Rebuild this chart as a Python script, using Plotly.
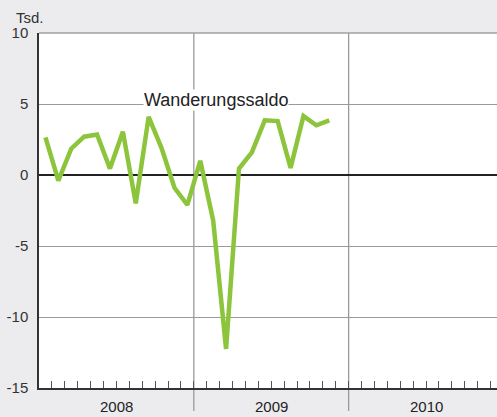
import plotly.graph_objects as go

# monthly migration balance (Tsd.), Jan 2008 - Nov 2009
months = ["2008-01", "2008-02", "2008-03", "2008-04", "2008-05", "2008-06",
          "2008-07", "2008-08", "2008-09", "2008-10", "2008-11", "2008-12",
          "2009-01", "2009-02", "2009-03", "2009-04", "2009-05", "2009-06",
          "2009-07", "2009-08", "2009-09", "2009-10", "2009-11"]
saldo = [2.65, -0.4, 1.85, 2.7, 2.85, 0.45, 3.05, -2.0, 4.1, 1.9, -0.9, -2.1,
         1.0, -3.2, -12.25, 0.45, 1.6, 3.85, 3.8, 0.5, 4.15, 3.5, 3.85]
years = ["2008", "2009", "2010"]
y_ticks = [-15, -10, -5, 0, 5, 10]
y_labels = ["-15", "-10", "-5", "0", "5", "10"]

bg = "#ececee"
font = "Liberation Sans, Arial, sans-serif"

# month index -> plot mid-month
x = [i + 0.5 for i in range(len(saldo))]

fig = go.Figure()
fig.add_trace(go.Scatter(
    x=x, y=saldo, mode="lines",
    line=dict(color="#8cc43c", width=4.5),
    hoverinfo="skip", showlegend=False,
))

shapes = []
# year separators, running down into the label band
for k in range(1, len(years)):
    shapes.append(dict(type="line", xref="x", yref="paper",
                       x0=12 * k, x1=12 * k, y0=-0.065, y1=1,
                       line=dict(color="#9a9a9a", width=1.3), layer="below"))
# top border
shapes.append(dict(type="line", xref="paper", yref="paper", x0=0, x1=1,
                   y0=1, y1=1, line=dict(color="#a0a0a0", width=1.5)))

annotations = [
    dict(text="Wanderungssaldo", x=13.7, y=5.28, xref="x", yref="y",
         showarrow=False, font=dict(size=18, color="#222", family=font),
         bgcolor="white", borderpad=0),
    dict(text="Tsd.", x=-0.055, y=1.045, xref="paper", yref="paper",
         xanchor="left", yanchor="middle", showarrow=False,
         font=dict(size=15, color="#333", family=font)),
]
for k, yr in enumerate(years):
    annotations.append(dict(text=yr, x=12 * k + 6, y=-0.053, xref="x",
                            yref="paper", yanchor="middle", showarrow=False,
                            font=dict(size=15, color="#222", family=font)))

fig.update_layout(
    width=497, height=417,
    margin=dict(l=39, r=0, t=33, b=29),
    paper_bgcolor=bg, plot_bgcolor="white",
    font=dict(family=font, size=15, color="#333"),
    shapes=shapes, annotations=annotations,
    xaxis=dict(range=[0, 35.5], showgrid=False, zeroline=False,
               tickvals=list(range(1, 36)), ticks="inside", ticklen=7,
               tickwidth=1, tickcolor="#555", showticklabels=False,
               showline=True, linecolor="#333", linewidth=1.5,
               fixedrange=True),
    yaxis=dict(range=[-15, 10], tickvals=y_ticks, ticktext=y_labels,
               showgrid=True, gridcolor="#9a9a9a", gridwidth=1.3,
               zeroline=True, zerolinecolor="#222", zerolinewidth=2,
               showline=True, linecolor="#333", linewidth=1.5,
               ticks="", ticklabelstandoff=6, fixedrange=True),
)

fig.write_html("out.html", config={"displayModeBar": False},
               post_script="document.body.style.margin='0';")
